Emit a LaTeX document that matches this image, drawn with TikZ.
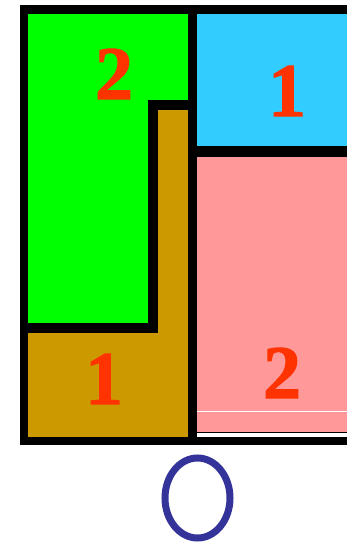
\documentclass[tikz,border=0pt]{standalone}
\usepackage{fontspec}
\setmainfont{Liberation Serif}
\newfontfamily\digitfont{Liberation Serif Bold}[FakeBold=1.5]
\definecolor{cgreen}{HTML}{00FF00}
\definecolor{cblue}{HTML}{33CCFF}
\definecolor{cpink}{HTML}{FF9999}
\definecolor{cbrown}{HTML}{CC9900}
\definecolor{cred}{HTML}{FF3300}
\definecolor{coval}{HTML}{333399}
\tikzset{
  digit/.style={text=cred, inner sep=0pt, font=\digitfont\fontsize{76}{76}\selectfont},
  wall/.style={draw=black, line cap=butt, line join=miter},
}
\begin{document}
\begin{tikzpicture}[x=1pt,y=-1pt]
\useasboundingbox (0,0) rectangle (347,546);
\fill[white] (0,0) rectangle (347,546);
% regions
\fill[cgreen] (24,9) -- (192.5,9) -- (192.5,104.5) -- (152.5,104.5) -- (152.5,327.5) -- (24,327.5) -- cycle;
\fill[cbrown] (152.5,104.5) -- (192.5,104.5) -- (192.5,437) -- (24,437) -- (24,327.5) -- (152.5,327.5) -- cycle;
\fill[cblue] (192.5,9) rectangle (347,151.5);
\fill[cpink] (192.5,151.5) rectangle (347,432);
\draw[white, line width=1pt] (197,411) -- (347,411);
\draw[black, line width=1.5pt] (192.5,432.7) -- (347,432.7);
% walls
\draw[wall, line width=8pt] (24,445) -- (24,4.5);
\draw[wall, line width=9pt] (20,9) -- (347,9);
\draw[wall, line width=8pt] (20,441) -- (347,441);
\draw[wall, line width=9pt] (192.5,4.5) -- (192.5,445);
\draw[wall, line width=11pt] (188,151.5) -- (347,151.5);
\draw[wall, line width=10pt] (188,104.5) -- (152.5,104.5) -- (152.5,327.5) -- (20,327.5);
% labels
\node[digit] (g2) at (114,74) {2};
\node[digit] (b1) at (287,91) {1};
\node[digit] (o1) at (104,379) {1};
\node[digit] (p2) at (282,373) {2};
% oval
\draw[coval, line width=7pt] (197.5,498) ellipse [x radius=32.5, y radius=40];
\end{tikzpicture}
\end{document}
